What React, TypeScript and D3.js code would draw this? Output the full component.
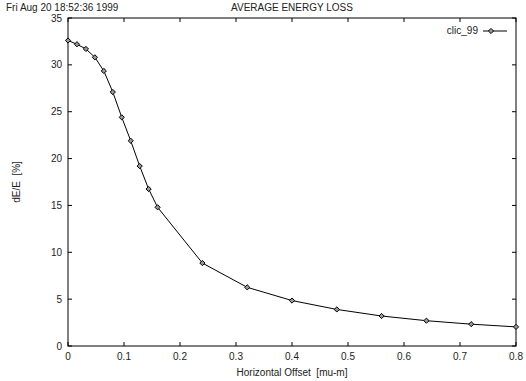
import React from "react";
import * as d3 from "d3";

const offsets = [0, 0.016, 0.032, 0.048, 0.064, 0.08, 0.096, 0.112, 0.128, 0.144, 0.16, 0.24, 0.32, 0.4, 0.48, 0.56, 0.64, 0.72, 0.8];
const energyLoss = [32.6, 32.2, 31.7, 30.8, 29.35, 27.1, 24.4, 21.9, 19.2, 16.75, 14.8, 8.85, 6.26, 4.85, 3.9, 3.2, 2.7, 2.33, 2.04];
const xTicks = [0, 0.1, 0.2, 0.3, 0.4, 0.5, 0.6, 0.7, 0.8];
const yTicks = [0, 5, 10, 15, 20, 25, 30, 35];
const seriesName = "clic_99";
const dateText = "Fri Aug 20 18:52:36 1999";
const titleText = "AVERAGE ENERGY LOSS";
const xLabel = "Horizontal Offset  [mu-m]";
const yLabel = "dE/E  [%]";

export default function App() {
  const W = 526, H = 381;
  const left = 68, right = 516, top = 18, bottom = 346;
  const x = d3.scaleLinear().domain([0, 0.8]).range([left, right]);
  const y = d3.scaleLinear().domain([0, 35]).range([bottom, top]);
  const line = d3.line<number>().x((_, i) => x(offsets[i])).y((d) => y(d));
  const font = "'Liberation Sans', Arial, sans-serif";
  const tl = 4;
  const diamond = (cx: number, cy: number, r = 2.6) =>
    `M${cx},${cy - r}L${cx + r},${cy}L${cx},${cy + r}L${cx - r},${cy}Z`;
  return (
    <svg width={W} height={H} style={{ position: "absolute", left: 0, top: 0, background: "#fff", whiteSpace: "pre" }} fontFamily={font}>
      <rect x={0} y={0} width={W} height={H} fill="#fff" />
      <text x={6} y={11} fontSize={10} fill="#222">{dateText}</text>
      <text x={292} y={11} fontSize={10} fill="#222" textAnchor="middle">{titleText}</text>
      {xTicks.map((t) => (
        <g key={"x" + t}>
          <line x1={x(t)} x2={x(t)} y1={bottom} y2={bottom - tl} stroke="#000" />
          <line x1={x(t)} x2={x(t)} y1={top} y2={top + tl} stroke="#000" />
          <text x={x(t)} y={360} fontSize={10} fill="#222" textAnchor="middle">{t === 0 ? "0" : String(t)}</text>
        </g>
      ))}
      {yTicks.map((t) => (
        <g key={"y" + t}>
          <line x1={left} x2={left + tl} y1={y(t)} y2={y(t)} stroke="#000" />
          <line x1={right} x2={right - tl} y1={y(t)} y2={y(t)} stroke="#000" />
          <text x={62} y={y(t) + 3.5} fontSize={10} fill="#222" textAnchor="end">{t}</text>
        </g>
      ))}
      <rect x={left} y={top} width={right - left} height={bottom - top} fill="none" stroke="#000" strokeWidth={1} />
      <text x={292} y={376} fontSize={10} fill="#222" textAnchor="middle" style={{ whiteSpace: "pre" }}>{xLabel}</text>
      <text transform={`translate(20,182) rotate(-90)`} fontSize={10} fill="#222" textAnchor="middle" style={{ whiteSpace: "pre" }}>{yLabel}</text>
      <path d={line(energyLoss) || ""} fill="none" stroke="#000" strokeWidth={1} />
      {energyLoss.map((v, i) => (
        <path key={i} d={diamond(x(offsets[i]), y(v))} fill="#999" stroke="#000" strokeWidth={1} />
      ))}
      <text x={478} y={34} fontSize={10} fill="#222" textAnchor="end">{seriesName}</text>
      <line x1={483} x2={507} y1={31} y2={31} stroke="#000" />
      <path d={diamond(491, 31)} fill="#999" stroke="#000" strokeWidth={1} />
    </svg>
  );
}
